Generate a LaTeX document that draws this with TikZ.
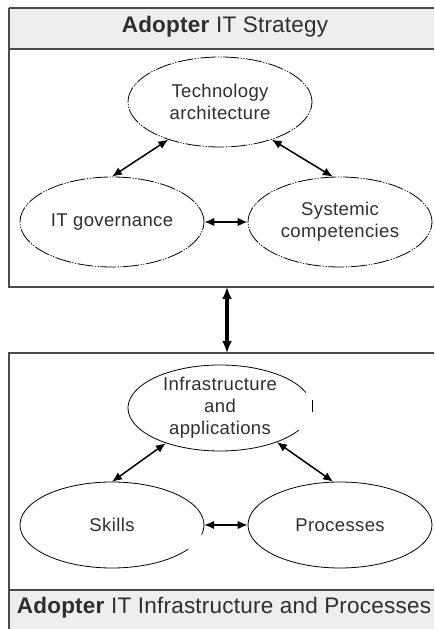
\documentclass[tikz,border=0pt]{standalone}
\usepackage{fontspec}
\setmainfont{Liberation Sans}
\usetikzlibrary{shapes.geometric,arrows.meta}
\definecolor{frame}{HTML}{4A4A4A}
\definecolor{band}{HTML}{EDEEED}
\definecolor{ink}{HTML}{2E2E2E}
\tikzset{
  x=1pt, y=1pt,
  blob/.style={ellipse, minimum width=184pt, minimum height=90pt, inner sep=0pt,
    align=center, text=ink,
    font=\fontsize{18.5}{22}\selectfont\addfontfeatures{LetterSpace=2}},
  lowblob/.style={blob, minimum height=86pt},
  dashrim/.style={draw=black, line width=0.8pt,
    dash pattern=on 16pt off 1.5pt on 1.2pt off 1.5pt on 1.2pt off 1.5pt},
  rim/.style={draw=black, line width=0.8pt},
  frameline/.style={draw=frame, line width=1.5pt},
  headline/.style={draw=frame, line width=2pt},
  link/.style={line width=1.5pt, {Latex[length=10pt,width=8.5pt]}-{Latex[length=10pt,width=8.5pt]}},
  biglink/.style={line width=3.2pt, {Latex[length=12pt,width=10pt]}-{Latex[length=12pt,width=10pt]}},
  title/.style={text=ink, font=\fontsize{22.5}{26}\selectfont\addfontfeatures{LetterSpace=1}, inner sep=0pt}
}
\begin{document}
\begin{tikzpicture}
\useasboundingbox (0,0) rectangle (434,629);

% ---- upper frame: strategy ----
\fill[band] (9,580) rectangle (434,621);
\draw[frameline] (434,342) -- (9,342) -- (9,621);
\draw[headline] (9,621) -- (434,621);
\draw[headline] (9,580) -- (434,580);
\node[title] (top) at (225,602) {\textbf{Adopter} IT Strategy};

\node[blob, dashrim] (tech) at (220,527) {Technology\\architecture};
\node[blob, dashrim] (itg)  at (112,407) {IT governance};
\node[blob, dashrim] (sys)  at (340,407) {Systemic\\competencies};

\draw[link] (tech.216) -- (itg.north);
\draw[link] (tech.324) -- (sys.99);
\draw[link] (itg.east) -- (sys.west);

% ---- lower frame: infrastructure and processes ----
\fill[band] (9,0) rectangle (434,39);
\draw[frameline] (434,276) -- (9,276) -- (9,0);
\draw[headline] (9,39) -- (434,39);
\node[title] (bottom) at (224,21.5) {\textbf{Adopter} IT Infrastructure and Processes};

\node[lowblob] (infra) at (220,221) {Infrastructure\\and\\applications};
\node[lowblob] (skills) at (112,104) {Skills};
\node[lowblob, rim] (proc) at (340,104) {Processes};

% outlines with small breaks
\draw[rim] (infra.center) ++(21:92 and 43) arc[start angle=21, end angle=329, x radius=92, y radius=43];
\draw[rim] (312,229) -- (312,217);
\draw[rim] (skills.center) ++(-13:92 and 43) arc[start angle=-13, end angle=326, x radius=92, y radius=43];

\draw[link] (infra.213) -- (skills.north);
\draw[link] (infra.329) -- (proc.99);
\draw[link] (skills.east) -- (proc.west);

% ---- link between the two frames ----
\coordinate (upper) at (227,342);
\coordinate (lower) at (227,276);
\draw[biglink] (upper) -- (lower);
\end{tikzpicture}
\end{document}
